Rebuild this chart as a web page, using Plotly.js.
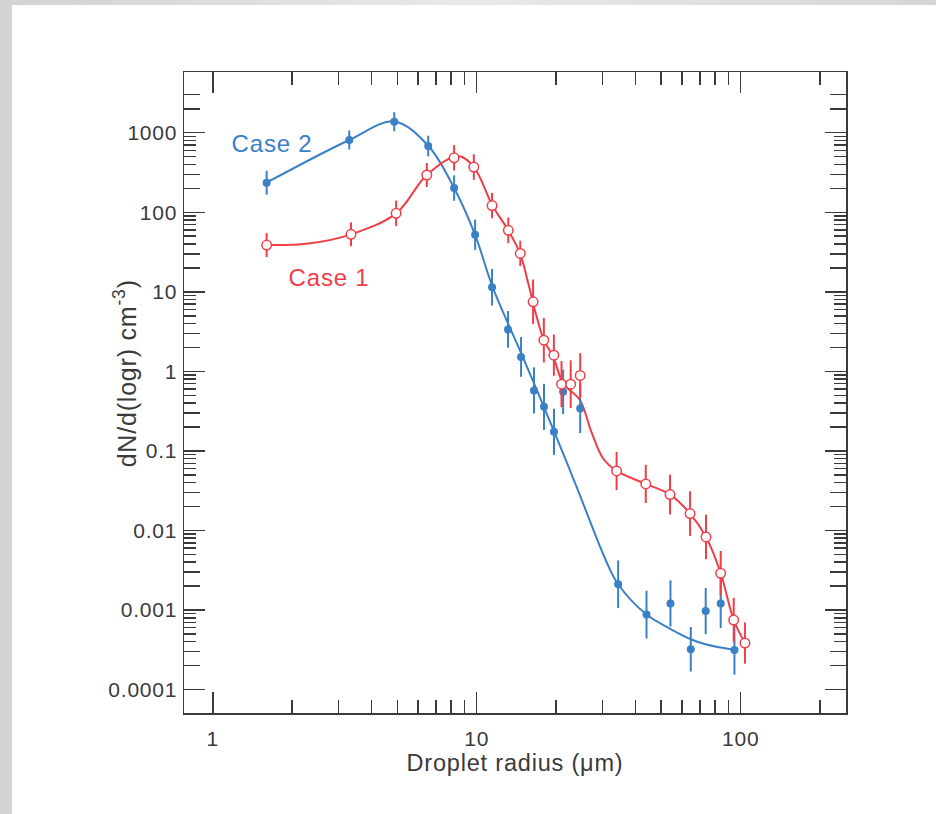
<!DOCTYPE html>
<html>
<head>
<meta charset="utf-8">
<script src="https://cdn.plot.ly/plotly-3.0.1.min.js"></script>
<style>
  html, body { margin:0; padding:0; background:#ffffff; }
  #wrap { position:relative; width:936px; height:814px; overflow:hidden; background:#ffffff; }
  #bandTop { position:absolute; left:0; top:0; width:936px; height:5px;
    background:linear-gradient(to right, #d2d2d2 0%, #e9e9e9 50%, #d6d6d6 100%); }
  #bandLeft { position:absolute; left:0; top:0; width:12px; height:814px; background:#d3d3d3; }
  #chart { position:absolute; left:0; top:0; width:936px; height:814px; }
  #chart svg text { letter-spacing: 0.8px; }
</style>
</head>
<body>
<div id="wrap">
  <div id="bandTop"></div>
  <div id="bandLeft"></div>
  <div id="chart"></div>
</div>
<script>
// ---- Data ----
// Case 2 (blue, filled circles)
const case2_r   = [1.6, 3.29, 4.87, 6.55, 8.21, 9.86, 11.43, 13.14, 14.72, 16.48, 17.98, 19.62, 21.25, 24.66, 34.34, 43.98, 54.2, 64.7, 73.7, 84.0, 94.7];
const case2_n   = [235, 810, 1375, 680, 201.6, 52.1, 11.4, 3.37, 1.52, 0.576, 0.358, 0.174, 0.553, 0.342, 0.00211, 0.000877, 0.00121, 0.000321, 0.000973, 0.00121, 0.000315];
const case2_err = [0.15, 0.12, 0.12, 0.13, 0.16, 0.19, 0.23, 0.23, 0.25, 0.29, 0.29, 0.29, 0.28, 0.31, 0.30, 0.30, 0.29, 0.28, 0.29, 0.31, 0.31]; // half-length in decades

// Case 1 (red, open circles)
const case1_r   = [1.6, 3.34, 4.95, 6.47, 8.21, 9.75, 11.43, 13.17, 14.62, 16.35, 17.96, 19.6, 20.95, 22.7, 24.66, 33.88, 43.7, 54.0, 64.3, 73.9, 84.0, 94.1, 103.8];
const case1_n   = [38.7, 52.8, 96.9, 294, 483, 370, 121.5, 59.2, 30.4, 7.49, 2.47, 1.6, 0.691, 0.691, 0.889, 0.0561, 0.0385, 0.0283, 0.0163, 0.0083, 0.0029, 0.00075, 0.000385];
const case1_err = [0.15, 0.15, 0.16, 0.15, 0.16, 0.16, 0.16, 0.16, 0.16, 0.28, 0.28, 0.26, 0.29, 0.30, 0.28, 0.24, 0.24, 0.25, 0.28, 0.28, 0.28, 0.28, 0.26];

// Fitted curves (nodes)
const fit2_r = [1.596, 3.29, 4.87, 6.56, 8.21, 9.86, 11.5, 14.94, 19.67, 23.9, 31.04, 34.34, 43.98, 53.87, 64.7, 74.2, 94.7];
const fit2_n = [235, 810, 1383, 680, 201.6, 52.1, 11.37, 1.523, 0.1736, 0.0353, 0.00402, 0.00211, 0.000877, 0.000585, 0.000429, 0.000368, 0.000315];
const fit1_r = [1.596, 2.30, 3.34, 4.95, 6.47, 8.5, 9.77, 11.47, 13.17, 14.59, 15.68, 16.87, 17.96, 19.5, 21.27, 24.6, 27.3, 30.14, 33.88, 43.7, 54.03, 64.3, 73.9, 84.03, 94.1, 103.8];
const fit1_n = [38.7, 40.4, 52.8, 96.9, 293.8, 509, 367, 121.5, 59.2, 30.4, 12.76, 4.85, 2.47, 1.52, 0.705, 0.4346, 0.167, 0.0803, 0.0561, 0.0385, 0.0283, 0.01634, 0.0083, 0.0029, 0.00075, 0.000385];

// Axis ticks and texts
const xTickVals  = [1, 10, 100];
const xTickText  = ['1', '10', '100'];
const xMinorVals = [2,3,4,5,6,7,8,9,20,30,40,50,60,70,80,90,200];
const yTickVals  = [0.0001, 0.001, 0.01, 0.1, 1, 10, 100, 1000];
const yTickText  = ['0.0001', '0.001', '0.01', '0.1', '1', '10', '100', '1000'];
const yMinor23   = [0.0002,0.0003,0.002,0.003,0.02,0.03,0.2,0.3,2,3,20,30,200,300,2000,3000];
const yMinor4to9 = [0.0004,0.0005,0.0006,0.0007,0.0008,0.0009,
                    0.004,0.005,0.006,0.007,0.008,0.009,
                    0.04,0.05,0.06,0.07,0.08,0.09,
                    0.4,0.5,0.6,0.7,0.8,0.9,
                    4,5,6,7,8,9,
                    40,50,60,70,80,90,
                    400,500,600,700,800,900];
const xTitle = 'Droplet radius (μm)';
const yTitle = 'dN/d(logr) cm<sup>-3</sup>)';
const seriesLabels = ['Case 2', 'Case 1'];

// ---- Styles ----
const BLUE = '#3a80c6';
const RED  = '#ef3e48';
const AXC  = '#3a3a3a';
const TXT  = '#3a3a3a';
const FONT = 'Liberation Sans, Arial, Helvetica, sans-serif';

function errUp(v, e)   { return v.map((y, i) => y * (Math.pow(10, e[i]) - 1)); }
function errDown(v, e) { return v.map((y, i) => y * (1 - Math.pow(10, -e[i]))); }

const traces = [
  { x: fit2_r, y: fit2_n, type: 'scatter', mode: 'lines', line: { color: BLUE, width: 2, shape: 'spline', smoothing: 1 }, hoverinfo: 'skip', showlegend: false },
  { x: fit1_r, y: fit1_n, type: 'scatter', mode: 'lines', line: { color: RED, width: 2, shape: 'spline', smoothing: 1 }, hoverinfo: 'skip', showlegend: false },
  { x: case2_r, y: case2_n, type: 'scatter', mode: 'markers', name: seriesLabels[0],
    marker: { symbol: 'circle', size: 8, color: BLUE, line: { width: 0 } },
    error_y: { type: 'data', symmetric: false, array: errUp(case2_n, case2_err), arrayminus: errDown(case2_n, case2_err), color: BLUE, thickness: 2, width: 0 },
    showlegend: false },
  { x: case1_r, y: case1_n, type: 'scatter', mode: 'markers', name: seriesLabels[1],
    marker: { symbol: 'circle', size: 9.5, color: '#ffffff', line: { color: RED, width: 1.5 } },
    error_y: { type: 'data', symmetric: false, array: errUp(case1_n, case1_err), arrayminus: errDown(case1_n, case1_err), color: RED, thickness: 2, width: 0 },
    showlegend: false },
  // carrier for the overlaid short minor-tick axis
  { x: [], y: [], type: 'scatter', mode: 'markers', yaxis: 'y2', hoverinfo: 'skip', showlegend: false }
];

const XR = [-0.109, 2.399];
const YR = [-4.294, 3.763];

const layout = {
  width: 936, height: 814,
  margin: { l: 184, r: 90, t: 72, b: 101, pad: 0 },
  paper_bgcolor: 'rgba(0,0,0,0)',
  plot_bgcolor: '#ffffff',
  font: { family: FONT, color: TXT, size: 21 },
  showlegend: false,
  xaxis: {
    type: 'log', range: XR, autorange: false,
    tickmode: 'array', tickvals: xTickVals, ticktext: xTickText,
    ticks: 'inside', ticklen: 21, tickwidth: 1.5, tickcolor: AXC,
    showline: true, linewidth: 1.5, linecolor: AXC, mirror: 'ticks',
    showgrid: false, zeroline: false,
    tickfont: { family: FONT, size: 21, color: TXT },
    ticklabelstandoff: 6,
    minor: { tickmode: 'array', tickvals: xMinorVals, ticks: 'inside', ticklen: 13, tickwidth: 1.5, tickcolor: AXC, showgrid: false },
    title: { text: xTitle, font: { family: FONT, size: 23.5, color: TXT }, standoff: 2 },
    automargin: false
  },
  yaxis: {
    type: 'log', range: YR, autorange: false,
    tickmode: 'array', tickvals: yTickVals, ticktext: yTickText,
    ticks: 'inside', ticklen: 21, tickwidth: 1.5, tickcolor: AXC,
    showline: true, linewidth: 1.5, linecolor: AXC, mirror: 'ticks',
    showgrid: false, zeroline: false,
    tickfont: { family: FONT, size: 21, color: TXT },
    ticklabelstandoff: 1,
    minor: { tickmode: 'array', tickvals: yMinor23, ticks: 'inside', ticklen: 16, tickwidth: 1.5, tickcolor: AXC, showgrid: false },
    automargin: false
  },
  yaxis2: {
    type: 'log', range: YR, autorange: false, overlaying: 'y', side: 'left', anchor: 'x',
    tickmode: 'array', tickvals: yMinor4to9,
    ticks: 'inside', ticklen: 12, tickwidth: 1.5, tickcolor: AXC,
    showticklabels: false, showline: false, mirror: 'ticks',
    showgrid: false, zeroline: false, automargin: false
  },
  annotations: [
    { text: yTitle, xref: 'paper', yref: 'paper', x: -0.0891, y: 0.529, textangle: -90,
      xanchor: 'center', yanchor: 'middle', showarrow: false,
      font: { family: FONT, size: 25, color: TXT } },
    { text: seriesLabels[0], xref: 'paper', yref: 'paper', x: 0.1329, y: 0.889, xanchor: 'center', yanchor: 'middle', showarrow: false,
      font: { family: FONT, size: 24, color: BLUE } },
    { text: seriesLabels[1], xref: 'paper', yref: 'paper', x: 0.219, y: 0.680, xanchor: 'center', yanchor: 'middle', showarrow: false,
      font: { family: FONT, size: 24, color: RED } }
  ]
};

Plotly.newPlot('chart', traces, layout, { displayModeBar: false, staticPlot: true });
</script>
</body>
</html>
